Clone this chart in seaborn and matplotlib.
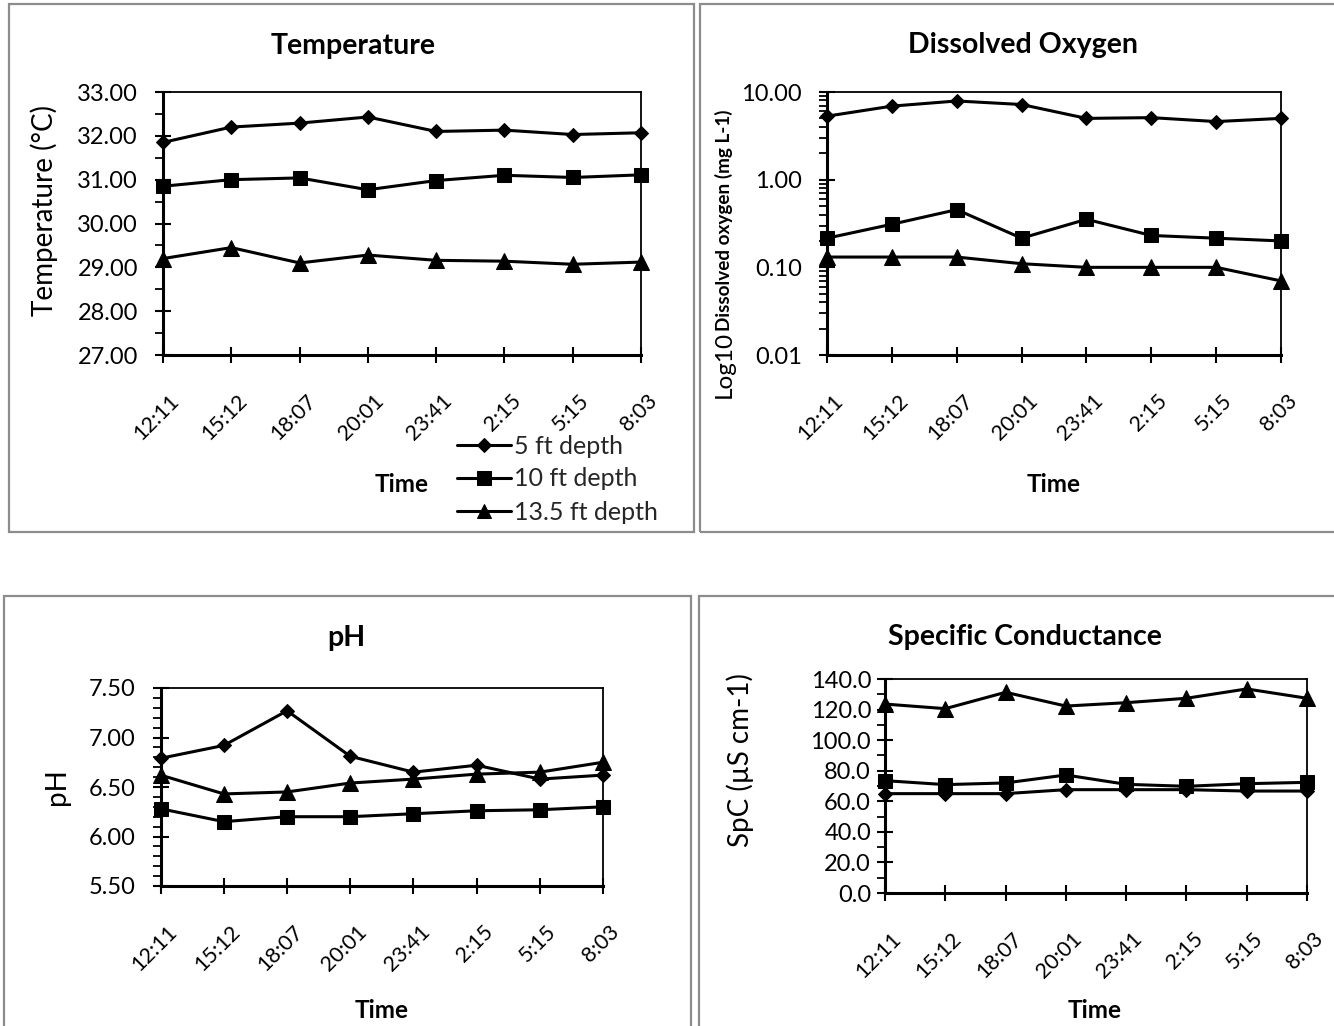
import matplotlib
matplotlib.use("Agg")
import matplotlib.pyplot as plt
from matplotlib.patches import Rectangle
from matplotlib.transforms import ScaledTranslation
from matplotlib.ticker import MultipleLocator, LogLocator, NullFormatter, FuncFormatter, FormatStrFormatter
import pandas as pd
import seaborn as sns

# Sampling times (one overnight profile) and depths
times = ["12:11", "15:12", "18:07", "20:01", "23:41", "2:15", "5:15", "8:03"]
depths = ["5 ft depth", "10 ft depth", "13.5 ft depth"]

# Temperature (°C)
temp_5ft = [31.85, 32.20, 32.29, 32.43, 32.10, 32.13, 32.03, 32.07]
temp_10ft = [30.85, 31.00, 31.04, 30.77, 30.98, 31.10, 31.05, 31.11]
temp_13ft = [29.20, 29.45, 29.10, 29.28, 29.16, 29.14, 29.07, 29.12]

# Dissolved oxygen (mg L-1)
do_5ft = [5.3, 6.9, 7.9, 7.2, 5.0, 5.1, 4.6, 5.0]
do_10ft = [0.215, 0.31, 0.455, 0.215, 0.353, 0.231, 0.215, 0.20]
do_13ft = [0.131, 0.131, 0.131, 0.11, 0.10, 0.10, 0.10, 0.07]

# pH
ph_5ft = [6.79, 6.92, 7.27, 6.81, 6.65, 6.72, 6.58, 6.62]
ph_10ft = [6.28, 6.15, 6.20, 6.20, 6.23, 6.26, 6.27, 6.30]
ph_13ft = [6.62, 6.43, 6.45, 6.54, 6.58, 6.63, 6.65, 6.75]

# Specific conductance (µS cm-1)
spc_5ft = [65.0, 65.0, 65.0, 67.6, 67.6, 67.6, 66.7, 66.7]
spc_10ft = [73.5, 70.9, 72.0, 77.2, 71.1, 69.8, 71.5, 72.4]
spc_13ft = [123.6, 120.6, 131.3, 122.3, 124.5, 127.4, 133.5, 127.4]

sns.set_theme(style="white")
plt.rcParams["font.family"] = ["Lato", "DejaVu Sans"]

W, H = 1334, 1026
fig = plt.figure(figsize=(W / 100, H / 100), dpi=100)


def fx(x):
    return x / W


def fy(y):
    return 1 - y / H


def axes_px(left, right, top, bottom):
    return fig.add_axes([fx(left), fy(bottom), (right - left) / W, (bottom - top) / H])


# grey frames around each chart
for (x0, y0, x1, y1) in [(9, 4, 694, 532), (700, 4, 1350, 532),
                         (4, 596, 691, 1050), (699, 596, 1350, 1050)]:
    fig.patches.append(Rectangle((fx(x0), fy(y1)), (x1 - x0) / W, (y1 - y0) / H,
                                 transform=fig.transFigure, fill=False,
                                 edgecolor="#8c8c8c", linewidth=1.6, zorder=0))

markers = {"5 ft depth": ("D", 7.5), "10 ft depth": ("s", 10.5), "13.5 ft depth": ("^", 11)}

YTICK_FS = 17
XTICK_FS = 15.5


def draw_series(ax, series):
    for name, vals in zip(depths, series):
        df = pd.DataFrame({"Time": times, "value": vals})
        mk, ms = markers[name]
        sns.lineplot(data=df, x="Time", y="value", ax=ax, sort=False, color="black",
                     linewidth=2.2, marker=mk, markersize=ms, markeredgecolor="black",
                     markerfacecolor="black", clip_on=False, label=name, legend=False)
    ax.set_xlim(0, 7)
    ax.set_xlabel("")
    ax.set_ylabel("")
    for side in ["left", "bottom"]:
        ax.spines[side].set_linewidth(2.2)
    for side in ["top", "right"]:
        ax.spines[side].set_linewidth(1.3)
    for s in ax.spines.values():
        s.set_color("black")
        s.set_visible(True)


def style_ticks(ax, ypad=12):
    ax.tick_params(axis="both", which="major", direction="inout", length=11, width=1.5,
                   colors="black", bottom=True, left=True)
    ax.tick_params(axis="y", which="major", pad=ypad, length=12, labelsize=YTICK_FS)
    ax.tick_params(axis="y", which="minor", direction="out", length=6, width=1.3,
                   left=True, colors="black")
    ax.tick_params(axis="x", which="major", pad=20, labelsize=XTICK_FS)
    ax.set_xticks(range(len(times)))
    ax.set_xticklabels(times, rotation=45, ha="right", va="top", rotation_mode="anchor")
    off = ScaledTranslation(6 / 100, 0, fig.dpi_scale_trans)
    for lbl in ax.get_xticklabels():
        lbl.set_transform(lbl.get_transform() + off)


# Temperature
ax_t = axes_px(163, 641, 92, 355)
draw_series(ax_t, [temp_5ft, temp_10ft, temp_13ft])
ax_t.set_ylim(27, 33)
ax_t.yaxis.set_major_locator(MultipleLocator(1))
ax_t.yaxis.set_minor_locator(MultipleLocator(0.5))
ax_t.yaxis.set_major_formatter(FormatStrFormatter("%.2f"))
style_ticks(ax_t)

# Dissolved oxygen (log scale)
ax_do = axes_px(827, 1281, 92, 355)
ax_do.set_yscale("log")
draw_series(ax_do, [do_5ft, do_10ft, do_13ft])
ax_do.set_ylim(0.01, 10)
ax_do.yaxis.set_major_locator(LogLocator(base=10, numticks=10))
ax_do.yaxis.set_minor_locator(LogLocator(base=10, subs=range(2, 10), numticks=20))
ax_do.yaxis.set_major_formatter(FuncFormatter(lambda v, p: f"{v:.2f}"))
ax_do.yaxis.set_minor_formatter(NullFormatter())
style_ticks(ax_do)

# pH
ax_ph = axes_px(160.7, 603, 688, 886)
draw_series(ax_ph, [ph_5ft, ph_10ft, ph_13ft])
ax_ph.set_ylim(5.5, 7.5)
ax_ph.yaxis.set_major_locator(MultipleLocator(0.5))
ax_ph.yaxis.set_minor_locator(MultipleLocator(0.1))
ax_ph.yaxis.set_major_formatter(FormatStrFormatter("%.2f"))
style_ticks(ax_ph)

# Specific conductance
ax_spc = axes_px(885, 1307, 679, 893)
draw_series(ax_spc, [spc_5ft, spc_10ft, spc_13ft])
ax_spc.set_ylim(0, 140)
ax_spc.yaxis.set_major_locator(MultipleLocator(20))
ax_spc.yaxis.set_minor_locator(MultipleLocator(10))
ax_spc.yaxis.set_major_formatter(FormatStrFormatter("%.1f"))
style_ticks(ax_spc, ypad=4)

# Titles
title_kw = dict(ha="center", va="center", fontsize=20.5, fontweight="bold", color="black")
fig.text(fx(353), fy(46), "Temperature", **title_kw)
fig.text(fx(1023), fy(45), "Dissolved Oxygen", **title_kw)
fig.text(fx(346), fy(638), "pH", **title_kw)
fig.text(fx(1025), fy(637), "Specific Conductance", **title_kw)

# Axis titles
xl_kw = dict(ha="center", va="center", fontsize=17.5, fontweight="bold", color="black")
fig.text(fx(402), fy(484), "Time", **xl_kw)
fig.text(fx(1054), fy(484), "Time", **xl_kw)
fig.text(fx(382), fy(1010), "Time", **xl_kw)
fig.text(fx(1095), fy(1010), "Time", **xl_kw)

yl_kw = dict(ha="center", va="center", rotation=90, fontsize=20, color="black")
fig.text(fx(44), fy(210), "Temperature (°C)", **yl_kw)
fig.text(fx(57), fy(787), "pH", **yl_kw)
fig.text(fx(740), fy(760), "SpC (µS cm-1)", **yl_kw)
t_log = fig.text(fx(724), fy(398), "Log10", ha="center", va="bottom", rotation=90,
                 fontsize=17.5, color="black")
ax_do.annotate("Dissolved oxygen (mg L-1)", xy=(0.5, 1.0), xycoords=t_log,
               ha="center", va="bottom", rotation=90, fontsize=13.6,
               fontweight="bold", color="black", annotation_clip=False)

# Legend for the depth series
handles, labels = ax_t.get_legend_handles_labels()
fig.legend(handles, labels, loc="center left", bbox_to_anchor=(fx(457), fy(479)),
           bbox_transform=fig.transFigure, frameon=False, fontsize=18,
           handlelength=2.15, handletextpad=0.12, labelspacing=0.4,
           borderpad=0, borderaxespad=0, markerscale=0.9)

fig.savefig("out.png", dpi=100)
